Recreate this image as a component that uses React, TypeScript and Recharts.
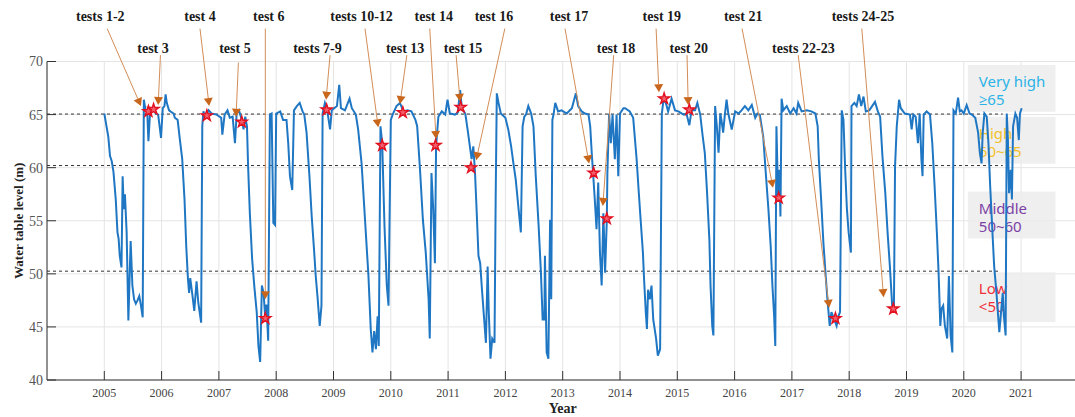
import {
  ComposedChart,
  Line,
  Scatter,
  XAxis,
  YAxis,
  ZAxis,
  CartesianGrid,
  ReferenceLine,
  ReferenceDot,
  ReferenceArea,
} from 'recharts';

const yearTicks = [
  2005, 2006, 2007, 2008, 2009, 2010, 2011, 2012, 2013, 2014, 2015, 2016, 2017,
  2018, 2019, 2020, 2021,
];
const levelTicks = [40, 45, 50, 55, 60, 65, 70];

// [year, water table level (m)]
const waterLevel: [number, number][] = [
  [2005.0, 65.1], [2005.07, 62.9], [2005.1, 61.1], [2005.13, 60.6], [2005.16, 59.6],
  [2005.2, 57.0], [2005.23, 53.9], [2005.25, 53.3], [2005.27, 51.7], [2005.3, 50.6],
  [2005.32, 59.2], [2005.34, 56.1], [2005.36, 57.5], [2005.39, 53.9], [2005.42, 45.6],
  [2005.46, 53.1], [2005.49, 48.9], [2005.52, 47.6], [2005.55, 47.2], [2005.58, 47.5],
  [2005.61, 47.9], [2005.64, 47.0], [2005.67, 45.9], [2005.69, 66.4], [2005.72, 65.4],
  [2005.75, 65.2], [2005.77, 62.5], [2005.8, 65.3], [2005.86, 65.4], [2005.9, 65.1],
  [2005.94, 65.0], [2005.99, 62.8], [2006.02, 65.6], [2006.05, 65.8], [2006.07, 66.9],
  [2006.09, 66.1], [2006.13, 65.4], [2006.18, 65.2], [2006.21, 65.1], [2006.23, 64.7],
  [2006.28, 64.5], [2006.32, 62.6], [2006.36, 60.8], [2006.4, 57.0], [2006.43, 52.6],
  [2006.46, 49.5], [2006.48, 48.2], [2006.5, 49.6], [2006.54, 47.9], [2006.57, 46.5],
  [2006.61, 49.3], [2006.64, 47.3], [2006.69, 45.4], [2006.71, 63.9], [2006.73, 65.3],
  [2006.76, 64.8], [2006.82, 65.4], [2006.87, 65.1], [2006.96, 65.0], [2007.04, 64.7],
  [2007.06, 63.1], [2007.1, 65.0], [2007.15, 65.4], [2007.19, 64.7], [2007.24, 64.8],
  [2007.28, 62.3], [2007.31, 65.1], [2007.35, 65.4], [2007.4, 64.5], [2007.43, 63.6],
  [2007.46, 64.8], [2007.49, 63.9], [2007.51, 60.1], [2007.54, 55.7], [2007.58, 51.4],
  [2007.62, 48.7], [2007.66, 46.4], [2007.69, 43.2], [2007.72, 41.7], [2007.75, 48.9],
  [2007.78, 48.2], [2007.81, 45.7], [2007.83, 47.1], [2007.86, 43.7], [2007.89, 65.0],
  [2007.92, 65.1], [2007.95, 54.8], [2007.98, 54.6], [2008.0, 65.1], [2008.07, 65.3],
  [2008.12, 64.5], [2008.18, 64.5], [2008.21, 62.3], [2008.24, 59.2], [2008.28, 57.9],
  [2008.31, 65.4], [2008.36, 65.8], [2008.41, 66.1], [2008.46, 65.3], [2008.49, 65.0],
  [2008.53, 63.3], [2008.58, 59.2], [2008.62, 55.4], [2008.66, 52.3], [2008.69, 49.8],
  [2008.72, 47.9], [2008.76, 45.1], [2008.79, 47.0], [2008.81, 65.1], [2008.85, 66.1],
  [2008.89, 65.4], [2008.94, 63.6], [2008.97, 65.4], [2009.06, 65.8], [2009.1, 67.8],
  [2009.13, 65.6], [2009.2, 65.4], [2009.28, 66.5], [2009.32, 65.6], [2009.39, 65.0],
  [2009.43, 63.6], [2009.49, 60.4], [2009.55, 55.1], [2009.61, 49.8], [2009.65, 44.8],
  [2009.68, 42.6], [2009.71, 44.6], [2009.74, 42.9], [2009.77, 46.0], [2009.79, 43.2],
  [2009.82, 63.9], [2009.85, 62.3], [2009.89, 54.5], [2009.93, 48.9], [2009.96, 47.0],
  [2010.0, 64.5], [2010.04, 65.1], [2010.1, 65.8], [2010.16, 66.1], [2010.22, 65.3],
  [2010.29, 65.4], [2010.36, 65.3], [2010.43, 64.5], [2010.46, 63.9], [2010.51, 59.8],
  [2010.56, 55.1], [2010.61, 52.0], [2010.66, 47.6], [2010.68, 43.9], [2010.71, 59.5],
  [2010.74, 56.1], [2010.77, 51.0], [2010.79, 62.0], [2010.83, 64.8], [2010.89, 65.3],
  [2010.95, 65.0], [2010.99, 66.4], [2011.03, 65.1], [2011.12, 65.0], [2011.17, 65.2],
  [2011.21, 67.3], [2011.24, 65.6], [2011.3, 65.1], [2011.34, 63.6], [2011.38, 62.0],
  [2011.41, 60.8], [2011.44, 62.0], [2011.47, 59.5], [2011.5, 55.7], [2011.53, 51.7],
  [2011.56, 51.0], [2011.59, 48.6], [2011.62, 46.4], [2011.66, 43.5], [2011.69, 50.7],
  [2011.71, 46.4], [2011.74, 42.0], [2011.77, 43.9], [2011.81, 43.5], [2011.83, 57.0],
  [2011.85, 67.0], [2011.88, 66.1], [2011.92, 65.1], [2012.0, 64.7], [2012.05, 63.6],
  [2012.1, 62.0], [2012.14, 60.4], [2012.18, 58.9], [2012.23, 56.1], [2012.27, 53.9],
  [2012.3, 63.9], [2012.33, 64.8], [2012.36, 65.0], [2012.4, 65.8], [2012.45, 65.1],
  [2012.49, 63.9], [2012.53, 59.2], [2012.58, 54.5], [2012.62, 50.1], [2012.65, 45.7],
  [2012.68, 45.7], [2012.69, 51.7], [2012.72, 42.6], [2012.75, 42.0], [2012.78, 55.1],
  [2012.8, 47.6], [2012.82, 64.5], [2012.84, 65.0], [2012.87, 66.1], [2012.92, 65.3],
  [2012.98, 65.4], [2013.07, 65.1], [2013.16, 65.6], [2013.23, 67.0], [2013.27, 65.8],
  [2013.33, 65.3], [2013.39, 65.1], [2013.45, 65.0], [2013.48, 63.9], [2013.51, 61.1],
  [2013.53, 59.5], [2013.56, 57.0], [2013.59, 54.2], [2013.62, 58.6], [2013.65, 52.0],
  [2013.68, 48.9], [2013.71, 55.7], [2013.74, 50.1], [2013.77, 55.1], [2013.78, 59.5],
  [2013.81, 65.1], [2013.84, 62.3], [2013.87, 65.0], [2013.91, 60.8], [2013.94, 65.0],
  [2013.97, 59.2], [2014.0, 65.1], [2014.06, 65.6], [2014.09, 65.6], [2014.17, 65.3],
  [2014.23, 64.7], [2014.29, 60.8], [2014.32, 58.3], [2014.36, 55.1], [2014.4, 52.0],
  [2014.42, 49.5], [2014.45, 46.4], [2014.47, 44.8], [2014.49, 48.5], [2014.52, 47.6],
  [2014.55, 48.9], [2014.58, 45.7], [2014.63, 43.9], [2014.66, 42.3], [2014.7, 42.9],
  [2014.73, 65.1], [2014.76, 66.4], [2014.8, 66.1], [2014.84, 65.3], [2014.9, 66.5],
  [2014.96, 65.4], [2015.02, 65.3], [2015.11, 65.0], [2015.16, 65.1], [2015.21, 64.0],
  [2015.25, 65.4], [2015.31, 65.4], [2015.35, 66.1], [2015.4, 65.0], [2015.44, 63.1],
  [2015.48, 61.4], [2015.52, 57.6], [2015.56, 53.2], [2015.58, 48.9], [2015.61, 45.1],
  [2015.63, 44.2], [2015.66, 65.8], [2015.69, 63.9], [2015.72, 61.4], [2015.75, 65.1],
  [2015.77, 64.5], [2015.8, 63.3], [2015.83, 65.0], [2015.86, 66.4], [2015.89, 65.1],
  [2015.95, 63.6], [2016.01, 65.3], [2016.07, 65.1], [2016.12, 65.4], [2016.18, 65.8],
  [2016.24, 65.4], [2016.3, 65.9], [2016.36, 64.7], [2016.4, 65.1], [2016.44, 65.0],
  [2016.5, 62.9], [2016.54, 59.8], [2016.59, 56.1], [2016.63, 52.6], [2016.66, 48.9],
  [2016.69, 46.0], [2016.71, 43.2], [2016.73, 63.9], [2016.76, 57.0], [2016.78, 59.8],
  [2016.8, 55.4], [2016.82, 66.5], [2016.85, 65.4], [2016.91, 65.8], [2016.97, 65.1],
  [2017.03, 65.6], [2017.08, 65.1], [2017.11, 66.1], [2017.17, 65.3], [2017.26, 65.4],
  [2017.34, 65.3], [2017.41, 65.1], [2017.45, 63.9], [2017.47, 60.8], [2017.51, 57.0],
  [2017.55, 52.9], [2017.59, 49.8], [2017.62, 47.6], [2017.66, 45.1], [2017.69, 46.4],
  [2017.74, 45.7], [2017.78, 45.1], [2017.81, 46.0], [2017.84, 46.4], [2017.87, 65.4],
  [2017.9, 64.5], [2017.93, 59.8], [2017.96, 56.1], [2017.99, 53.9], [2018.03, 52.0],
  [2018.04, 65.8], [2018.09, 66.1], [2018.13, 65.8], [2018.17, 66.9], [2018.21, 65.8],
  [2018.25, 66.7], [2018.29, 65.3], [2018.35, 65.4], [2018.4, 65.8], [2018.45, 66.2],
  [2018.5, 65.3], [2018.54, 64.8], [2018.58, 61.1], [2018.63, 57.6], [2018.67, 53.9],
  [2018.71, 50.7], [2018.75, 47.0], [2018.78, 46.4], [2018.8, 60.1], [2018.83, 63.9],
  [2018.87, 66.4], [2018.9, 65.6], [2018.97, 65.1], [2019.06, 65.0], [2019.09, 63.6],
  [2019.12, 65.0], [2019.16, 64.8], [2019.2, 62.3], [2019.23, 65.1], [2019.26, 60.8],
  [2019.28, 59.2], [2019.3, 65.0], [2019.35, 65.3], [2019.41, 65.0], [2019.45, 62.3],
  [2019.49, 58.3], [2019.53, 53.9], [2019.56, 50.1], [2019.59, 45.1], [2019.61, 46.7],
  [2019.64, 47.0], [2019.67, 45.1], [2019.71, 43.9], [2019.74, 49.8], [2019.77, 44.2],
  [2019.8, 42.6], [2019.82, 65.4], [2019.86, 65.1], [2019.9, 66.6], [2019.93, 65.3],
  [2019.96, 65.4], [2020.0, 65.1], [2020.05, 65.9], [2020.1, 65.1], [2020.14, 65.0],
  [2020.2, 64.7], [2020.25, 63.3], [2020.28, 61.4], [2020.31, 60.4], [2020.33, 63.3],
  [2020.36, 65.1], [2020.4, 64.8], [2020.43, 62.3], [2020.46, 58.3], [2020.5, 53.9],
  [2020.53, 50.7], [2020.57, 48.2], [2020.62, 44.5], [2020.65, 46.4], [2020.68, 48.2],
  [2020.7, 46.0], [2020.73, 44.2], [2020.75, 65.1], [2020.77, 62.6], [2020.79, 57.6],
  [2020.82, 59.8], [2020.84, 57.0], [2020.86, 63.9], [2020.9, 65.1], [2020.93, 64.7],
  [2020.96, 62.6], [2020.98, 65.1], [2021.01, 65.6],
];

// test sites (red stars)
const testStars: [number, number][] = [
  [2005.77, 65.3], [2005.86, 65.5], [2006.79, 64.9], [2007.4, 64.3], [2007.81, 45.8],
  [2008.88, 65.45], [2009.85, 62.1], [2010.21, 65.2], [2010.78, 62.1], [2011.22, 65.7],
  [2011.4, 60.0], [2013.54, 59.5], [2013.77, 55.2], [2014.77, 66.5], [2015.21, 65.45],
  [2016.77, 57.15], [2017.76, 45.8], [2018.77, 46.7],
];

// annotation labels above the plot
const testLabels = [
  'tests 1-2', 'test 3', 'test 4', 'test 5', 'test 6', 'tests 7-9', 'tests 10-12',
  'test 13', 'test 14', 'test 15', 'test 16', 'test 17', 'test 18', 'test 19',
  'test 20', 'test 21', 'tests 22-23', 'tests 24-25',
];
const labelYears = [
  2004.93, 2005.85, 2006.67, 2007.28, 2007.87, 2008.72, 2009.49, 2010.25, 2010.75,
  2011.26, 2011.8, 2013.11, 2013.93, 2014.73, 2015.2, 2016.15, 2017.2, 2018.24,
];
const labelRows = [1, 2, 1, 2, 1, 2, 1, 2, 1, 2, 1, 1, 2, 1, 2, 1, 2, 1];
const rowLevels = [73.8, 70.83];

const arrowTails: [number, number][] = [
  [2005.05, 73.1], [2005.98, 70.6], [2006.67, 73.1], [2007.34, 69.9], [2007.81, 73.1],
  [2008.94, 70.6], [2009.55, 73.1], [2010.28, 70.6], [2010.68, 73.1], [2011.14, 70.6],
  [2011.99, 73.1], [2013.04, 73.1], [2013.89, 70.6], [2014.63, 73.1], [2015.17, 70.6],
  [2016.13, 73.1], [2017.11, 70.6], [2018.22, 73.1],
];
const arrowTips: [number, number][] = [
  [2005.64, 65.8], [2005.94, 65.9], [2006.83, 65.8], [2007.3, 64.8], [2007.81, 47.6],
  [2008.87, 66.4], [2009.78, 63.8], [2010.16, 66.0], [2010.79, 62.7], [2011.21, 66.2],
  [2011.49, 60.7], [2013.46, 60.4], [2013.7, 56.4], [2014.68, 67.1], [2015.19, 65.9],
  [2016.67, 58.1], [2017.65, 46.8], [2018.6, 47.8],
];

// level classes on the right
const classNames = ['Very high', 'High', 'Middle', 'Low'];
const classRanges = ['≥65', '60~65', '50~60', '<50'];
const classColors = ['#2bb3e6', '#f2c12a', '#7b3fa5', '#ef2f3a'];
const classBoxLevels: [number, number][] = [
  [69.67, 65.26], [64.79, 60.38], [57.75, 53.33], [50.14, 45.45],
];
const classBoxYears: [number, number] = [2020.07, 2021.6];

const thresholds = [65.05, 60.2, 50.25];
const thresholdEnds = [2020.68, 2020.68, 2020.6];

const levelData = waterLevel.map(([year, level]) => ({ year, level }));
const starData = testStars.map(([year, level]) => ({ year, level }));

const SERIF = "'Liberation Serif', 'Times New Roman', serif";
const SANS = "'Noto Sans', 'Open Sans', sans-serif";

function Arrow(props: any) {
  const { x1, y1, x2, y2 } = props;
  const dx = x2 - x1;
  const dy = y2 - y1;
  const len = Math.hypot(dx, dy) || 1;
  const ux = dx / len;
  const uy = dy / len;
  const head = 8;
  const half = 4.5;
  const bx = x2 - ux * head;
  const by = y2 - uy * head;
  const pts = `${x2},${y2} ${bx - uy * half},${by + ux * half} ${bx + uy * half},${by - ux * half}`;
  return (
    <g>
      <line x1={x1} y1={y1} x2={bx} y2={by} stroke="#d38d57" strokeWidth={1} />
      <polygon points={pts} fill="#c8661c" />
    </g>
  );
}

const testLabel = (text: string) => (props: any) => (
  <text
    x={props.cx}
    y={props.cy}
    textAnchor="middle"
    fontFamily={SERIF}
    fontWeight="bold"
    fontSize={14}
    fill="#1a1a1a"
  >
    {text}
  </text>
);

const classBox = (i: number) => (props: any) => {
  const { x, y, width, height } = props;
  return (
    <g>
      <rect x={x} y={y} width={width} height={height} fill="#ececec" fillOpacity={0.85} />
      <text x={x + 11} y={y + 22} fontFamily={SANS} fontSize={15} fill={classColors[i]}>
        {classNames[i]}
      </text>
      <text x={x + 11} y={y + 40} fontFamily={SANS} fontSize={15} fill={classColors[i]}>
        {classRanges[i]}
      </text>
    </g>
  );
};

export default function App() {
  return (
    <div
      style={{
        position: 'absolute',
        left: 0,
        top: 0,
        width: 1075,
        height: 417,
        overflow: 'hidden',
        background: '#fff',
      }}
    >
      <ComposedChart
        width={1080}
        height={417}
        margin={{ top: 61.5, right: 1.6, bottom: 0, left: 0 }}
      >
        <CartesianGrid stroke="#e4e4e4" />
        <XAxis
          dataKey="year"
          type="number"
          domain={[2004, 2022]}
          ticks={yearTicks}
          allowDataOverflow
          height={37}
          tickSize={-9}
          tickMargin={17}
          stroke="#333"
          tick={{ fill: '#444', fontSize: 12, fontFamily: SERIF }}
          label={{
            value: 'Year',
            position: 'insideBottom',
            offset: 4,
            style: { fontFamily: SERIF, fontWeight: 'bold', fontSize: 14, fill: '#222' },
          }}
        />
        <XAxis
          xAxisId="top"
          orientation="top"
          type="number"
          domain={[2004, 2022]}
          ticks={yearTicks}
          height={0}
          tickSize={-9}
          tick={false}
          stroke="#333"
        />
        <YAxis
          type="number"
          domain={[40, 70]}
          ticks={levelTicks}
          allowDataOverflow
          width={47}
          tickSize={-9}
          tickMargin={13}
          stroke="#333"
          tick={{ fill: '#555', fontSize: 14, fontFamily: SERIF }}
          label={{
            value: 'Water table level (m)',
            angle: -90,
            position: 'insideLeft',
            offset: 18,
            textAnchor: 'middle',
            style: { fontFamily: SERIF, fontWeight: 'bold', fontSize: 13, fill: '#222' },
          }}
        />
        <YAxis
          yAxisId="right"
          orientation="right"
          type="number"
          domain={[40, 70]}
          ticks={levelTicks}
          width={0}
          tickSize={-9}
          tick={false}
          stroke="#333"
        />
        <ZAxis range={[38, 38]} />
        {classNames.map((name, i) => (
          <ReferenceArea
            key={name}
            x1={classBoxYears[0]}
            x2={classBoxYears[1]}
            y1={classBoxLevels[i][1]}
            y2={classBoxLevels[i][0]}
            shape={classBox(i)}
          />
        ))}
        {thresholds.map((v, i) => (
          <ReferenceLine
            key={`th-${v}`}
            segment={[
              { x: 2004, y: v },
              { x: thresholdEnds[i], y: v },
            ]}
            stroke="#333"
            strokeDasharray="3 3"
            strokeWidth={1}
          />
        ))}
        <Line
          data={levelData}
          dataKey="level"
          type="linear"
          stroke="#1f77c4"
          strokeWidth={2}
          dot={false}
          activeDot={false}
          isAnimationActive={false}
        />
        {testLabels.map((text, i) => (
          <ReferenceLine
            key={`arrow-${text}`}
            segment={[
              { x: arrowTails[i][0], y: arrowTails[i][1] },
              { x: arrowTips[i][0], y: arrowTips[i][1] },
            ]}
            ifOverflow="visible"
            shape={Arrow}
          />
        ))}
        <Scatter
          data={starData}
          dataKey="level"
          shape="star"
          fill="#f2606e"
          stroke="#e3101f"
          strokeWidth={1.4}
          isAnimationActive={false}
        />
        {testLabels.map((text, i) => (
          <ReferenceDot
            key={`label-${text}`}
            x={labelYears[i]}
            y={rowLevels[labelRows[i] - 1]}
            r={0}
            ifOverflow="visible"
            shape={testLabel(text)}
          />
        ))}
      </ComposedChart>
    </div>
  );
}
